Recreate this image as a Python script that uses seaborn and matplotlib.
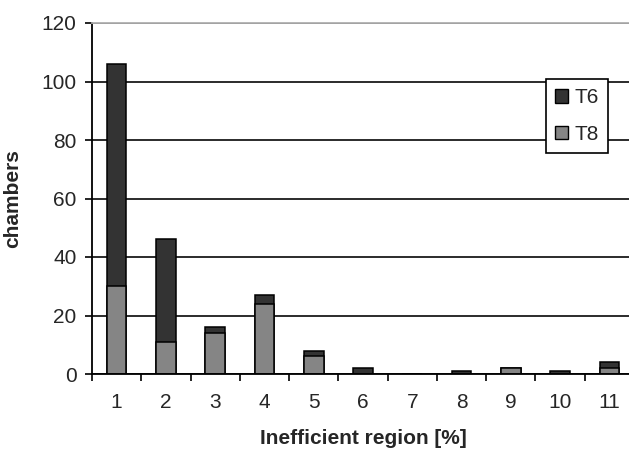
import matplotlib
matplotlib.use("Agg")
import matplotlib.pyplot as plt
import numpy as np
import pandas as pd
import seaborn as sns
from matplotlib.patches import Patch
from matplotlib.ticker import FixedLocator

# Data
regions = ["1", "2", "3", "4", "5", "6", "7", "8", "9", "10", "11"]
t8_counts = [30, 11, 14, 24, 6, 0, 0, 0, 2, 0, 2]
t6_counts = [76, 35, 2, 3, 2, 2, 0, 1, 0, 1, 2]
y_ticks = [0, 20, 40, 60, 80, 100, 120]

T6_COLOR = "#333333"
T8_COLOR = "#858585"
FONT_SIZE = 15

sns.set_style("white")
plt.rcParams["font.family"] = ["Liberation Sans", "DejaVu Sans"]

df = pd.DataFrame({"region": regions, "T8": t8_counts, "T6": t6_counts})
df["total"] = df["T8"] + df["T6"]

fig = plt.figure(figsize=(6.29, 4.5), dpi=100)
ax = fig.add_axes([92 / 629, 76 / 450, 542 / 629, 351 / 450])

# Stacked bars: full height in T6 colour, T8 part drawn over it
sns.barplot(data=df, x="region", y="total", order=regions, color=T6_COLOR,
            width=0.4, edgecolor="black", linewidth=1.1, saturation=1, ax=ax)
sns.barplot(data=df, x="region", y="T8", order=regions, color=T8_COLOR,
            width=0.4, edgecolor="black", linewidth=1.1, saturation=1, ax=ax)

ax.set_xlim(-0.5, len(regions) - 0.5)
ax.set_ylim(0, 120)
ax.set_yticks(y_ticks)
ax.set_yticklabels([str(v) for v in y_ticks], fontsize=FONT_SIZE)
ax.set_axisbelow(True)
ax.yaxis.grid(True, color="#1a1a1a", linewidth=1.3)
ax.xaxis.grid(False)

# Category labels centred, tick marks between categories
ax.tick_params(axis="x", which="major", length=0, labelsize=FONT_SIZE, pad=14)
ax.xaxis.set_minor_locator(FixedLocator(np.arange(-0.5, len(regions), 1.0)))
ax.tick_params(axis="x", which="minor", length=5, width=1.2, color="black",
               direction="out", bottom=True)
ax.tick_params(axis="y", length=5, width=1.2, color="black", direction="out",
               left=True, pad=6)

for side in ["left", "bottom"]:
    ax.spines[side].set_color("black")
    ax.spines[side].set_linewidth(1.3)
ax.spines["top"].set_color("#b0b0b0")
ax.spines["top"].set_linewidth(1.3)
ax.spines["right"].set_visible(False)

ax.set_xlabel("Inefficient region [%]", fontsize=FONT_SIZE, fontweight="bold",
              labelpad=12)
ax.set_ylabel("chambers", fontsize=FONT_SIZE, fontweight="bold", labelpad=14)

handles = [
    Patch(facecolor=T6_COLOR, edgecolor="black", label="T6"),
    Patch(facecolor=T8_COLOR, edgecolor="black", label="T8"),
]
leg = ax.legend(handles=handles, loc="upper left",
                bbox_to_anchor=(546 / 629, 1 - 79 / 450),
                bbox_transform=fig.transFigure, borderaxespad=0,
                fontsize=FONT_SIZE, frameon=True, fancybox=False,
                handlelength=0.6, handleheight=0.6, handletextpad=0.3,
                labelspacing=0.85, borderpad=0.45)
leg.get_frame().set_edgecolor("black")
leg.get_frame().set_linewidth(1.2)
leg.get_frame().set_alpha(1)

fig.savefig("out.png", dpi=100)
